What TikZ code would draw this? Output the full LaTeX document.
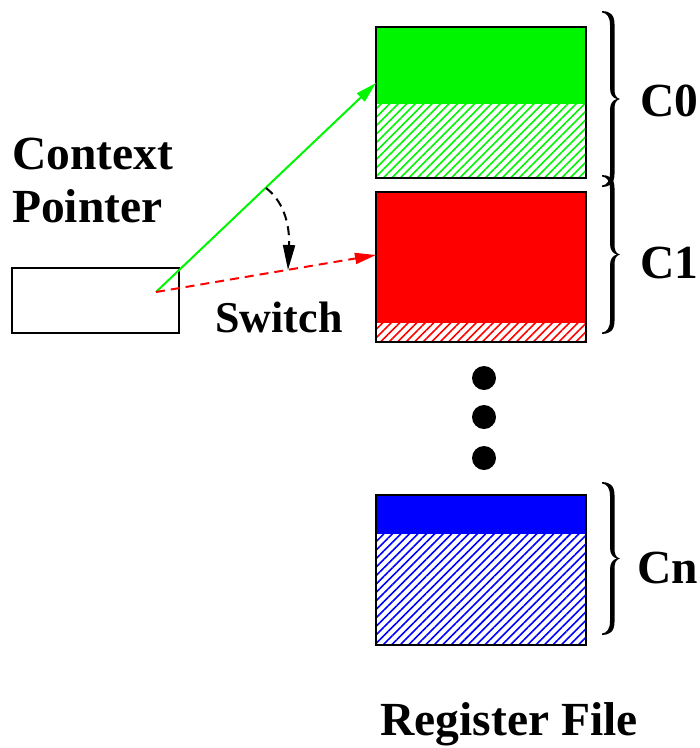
\documentclass[tikz,border=0pt]{standalone}
\usepackage{fontspec}
\setmainfont{Liberation Serif}
\usetikzlibrary{arrows.meta,patterns.meta}
\definecolor{pgreen}{RGB}{0,245,0}
\definecolor{pred}{RGB}{255,0,0}
\definecolor{pblue}{RGB}{0,0,255}
\tikzset{
  lbl/.style={font=\fontsize{47.5}{53}\selectfont\bfseries, inner sep=0pt},
  frame/.style={draw=black, line width=2.4pt},
  hatch/.style={pattern={Lines[angle=45,distance=6pt,line width=1.6pt]}, pattern color=#1},
  dot/.style={circle, fill=black, minimum size=24pt, inner sep=0pt},
  tip/.style={-{Triangle[length=21pt,width=11pt]}}
}
% a filled curly brace: left x, top y, bottom y
\newcommand\regbrace[3]{%
  \pgfmathsetmacro\bh{(#3-#2)/2}%
  \begin{scope}[shift={(#1,#2)}]
    \fill (0,0) .. controls (7,0) and (12.5,3) .. (12.5,13)
      -- (12.5,\bh-10) .. controls (12.5,\bh-4) and (14,\bh-1) .. (18,\bh)
      .. controls (14,\bh+1) and (12.5,\bh+4) .. (12.5,\bh+10)
      -- (12.5,2*\bh-13) .. controls (12.5,2*\bh-3) and (7,2*\bh) .. (0,2*\bh)
      -- (0,2*\bh-1.5) .. controls (5,2*\bh-2) and (8,2*\bh-6) .. (8,2*\bh-14)
      -- (8,\bh+11) .. controls (8,\bh+4) and (11,\bh+1) .. (15,\bh)
      .. controls (11,\bh-1) and (8,\bh-4) .. (8,\bh-11)
      -- (8,14) .. controls (8,6) and (5,2) .. (0,1.5) -- cycle;
  \end{scope}}
\begin{document}
\begin{tikzpicture}[x=1pt,y=-1pt]
\useasboundingbox (0,0) rectangle (700,748);

% context pointer
\node[lbl, align=left, anchor=north west] (cptxt) at (12,138) {Context\\Pointer};
\node[draw=black, line width=2pt, minimum width=167pt, minimum height=65pt, inner sep=0pt, anchor=north west] (cp) at (11,267) {};
\coordinate (src) at (156,292);

% register file blocks
\fill[pgreen] (376,27) rectangle (586,104);
\fill[hatch=pgreen] (376,104) rectangle (586,178);
\draw[frame] (376,27) rectangle (586,178);
\coordinate (c0in) at (376,83);

\fill[pred] (376,192) rectangle (586,323);
\fill[hatch=pred] (376,323) rectangle (586,342);
\draw[frame] (376,192) rectangle (586,342);
\coordinate (c1in) at (376,255);

\fill[pblue] (376,495) rectangle (586,534);
\fill[hatch=pblue] (376,534) rectangle (586,645);
\draw[frame] (376,495) rectangle (586,645);

% dots
\node[dot] (d1) at (484,378) {};
\node[dot] (d2) at (484,417) {};
\node[dot] (d3) at (484,458) {};

% braces and labels
\regbrace{602}{11}{187}
\regbrace{602}{175}{334}
\regbrace{602}{482}{635}
\node[lbl, anchor=west] (c0) at (640,101) {C0};
\node[lbl, anchor=west] (c1) at (640,263) {C1};
\node[lbl, anchor=west] (cn) at (637,568) {Cn};

% pointers
\draw[pgreen, line width=2pt, tip] (src) -- (c0in);
\draw[pred, line width=2pt, dash pattern=on 9pt off 6pt, tip] (src) -- (c1in);
\coordinate (sw1) at (266,188);
\coordinate (sw2) at (288,270);
\draw[black, line width=2pt, dash pattern=on 9pt off 6pt, -{Triangle[length=25pt,width=12pt]}] (sw1) .. controls (282,200) and (290,222) .. (sw2);
\node[lbl, font=\fontsize{44}{50}\selectfont\bfseries, anchor=center] (sw) at (279,317) {Switch};

\node[lbl, anchor=center] (rf) at (509,724) {Register File};
\end{tikzpicture}
\end{document}
